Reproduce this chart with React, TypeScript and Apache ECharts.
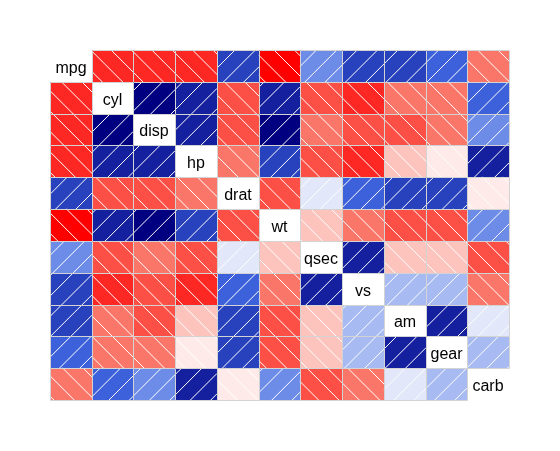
import React, { useEffect, useRef } from "react";
import * as echarts from "echarts";

// Variable names (diagonal labels)
const variables = ["mpg", "cyl", "disp", "hp", "drat", "wt", "qsec", "vs", "am", "gear", "carb"];

// Correlation rows (mtcars)
const mpgCor = [1, -0.852, -0.848, -0.776, 0.681, -0.868, 0.419, 0.664, 0.6, 0.48, -0.551];
const cylCor = [-0.852, 1, 0.902, 0.832, -0.7, 0.782, -0.591, -0.811, -0.523, -0.493, 0.527];
const dispCor = [-0.848, 0.902, 1, 0.791, -0.71, 0.888, -0.434, -0.71, -0.591, -0.556, 0.395];
const hpCor = [-0.776, 0.832, 0.791, 1, -0.449, 0.659, -0.708, -0.723, -0.243, -0.126, 0.75];
const dratCor = [0.681, -0.7, -0.71, -0.449, 1, -0.712, 0.091, 0.44, 0.713, 0.7, -0.091];
const wtCor = [-0.868, 0.782, 0.888, 0.659, -0.712, 1, -0.175, -0.555, -0.692, -0.583, 0.428];
const qsecCor = [0.419, -0.591, -0.434, -0.708, 0.091, -0.175, 1, 0.745, -0.23, -0.213, -0.656];
const vsCor = [0.664, -0.811, -0.71, -0.723, 0.44, -0.555, 0.745, 1, 0.168, 0.206, -0.57];
const amCor = [0.6, -0.523, -0.591, -0.243, 0.713, -0.692, -0.23, 0.168, 1, 0.794, 0.058];
const gearCor = [0.48, -0.493, -0.556, -0.126, 0.7, -0.583, -0.213, 0.206, 0.794, 1, 0.274];
const carbCor = [-0.551, 0.527, 0.395, 0.75, -0.091, 0.428, -0.656, -0.57, 0.058, 0.274, 1];

const corRows = [mpgCor, cylCor, dispCor, hpCor, dratCor, wtCor, qsecCor, vsCor, amCor, gearCor, carbCor];

// red - salmon - white - royalblue - navy, 14 steps
const palette = [
  "#FF0000", "#FD2723", "#FC4F46", "#FA7669", "#FB9D93", "#FDC4BE", "#FEEBE9",
  "#E2E8FA", "#A7BAF1", "#6D8CE8", "#3C61DA", "#2841BC", "#14209E", "#000080",
];

function colorFor(r: number): string {
  let idx = Math.ceil((r + 1) * 7) - 1;
  if (idx < 0) idx = 0;
  if (idx > 13) idx = 13;
  return palette[idx];
}

const HATCH = 20.36; // spacing along axis for 5 lines / inch at 72 dpi, 45 degrees

export default function App() {
  const ref = useRef<HTMLDivElement>(null);
  useEffect(() => {
    const chart = echarts.init(ref.current!, null, { renderer: "svg" });
    const data: number[][] = [];
    corRows.forEach((row, i) => row.forEach((r, j) => data.push([j, i, r])));
    chart.setOption({
      animation: false,
      grid: { left: 50, top: 50, width: 459, height: 350 },
      xAxis: { type: "value", min: 0, max: 11, show: false },
      yAxis: { type: "value", min: 0, max: 11, inverse: true, show: false },
      series: [
        {
          type: "custom",
          data,
          renderItem: (params: any, api: any) => {
            const col = api.value(0);
            const row = api.value(1);
            const r = api.value(2);
            const p0 = api.coord([col, row]);
            const p1 = api.coord([col + 1, row + 1]);
            const x0 = Math.round(p0[0]);
            const y0 = Math.round(p0[1]);
            const x1 = Math.round(p1[0]);
            const y1 = Math.round(p1[1]);
            if (col === row) {
              return {
                type: "text",
                style: {
                  text: variables[row],
                  x: (x0 + x1) / 2,
                  y: (y0 + y1) / 2 + 1,
                  align: "center",
                  verticalAlign: "middle",
                  fontSize: 16,
                  fontFamily: "Liberation Sans, Arial, sans-serif",
                  fill: "#000000",
                },
              };
            }
            const children: any[] = [];
            children.push({
              type: "rect",
              shape: { x: x0, y: y0, width: x1 - x0, height: y1 - y0 },
              style: { fill: colorFor(r) },
            });
            if (r > 0) {
              // "/" lines: x + y = c
              const cStart = Math.ceil((x0 + y0) / HATCH) * HATCH;
              for (let c = cStart; c < x1 + y1; c += HATCH) {
                const lo = Math.max(x0, c - y1);
                const hi = Math.min(x1, c - y0);
                if (hi - lo > 0.5) {
                  children.push({
                    type: "line",
                    shape: { x1: lo, y1: c - lo, x2: hi, y2: c - hi },
                    style: { stroke: "#ffffff", lineWidth: 1 },
                  });
                }
              }
            } else {
              // "\" lines: y - x = c
              const cStart = Math.ceil((y0 - x1) / HATCH) * HATCH;
              for (let c = cStart; c < y1 - x0; c += HATCH) {
                const lo = Math.max(x0, y0 - c);
                const hi = Math.min(x1, y1 - c);
                if (hi - lo > 0.5) {
                  children.push({
                    type: "line",
                    shape: { x1: lo, y1: lo + c, x2: hi, y2: hi + c },
                    style: { stroke: "#ffffff", lineWidth: 1 },
                  });
                }
              }
            }
            children.push({
              type: "rect",
              shape: { x: x0 + 0.5, y: y0 + 0.5, width: x1 - x0, height: y1 - y0 },
              style: { fill: "none", stroke: "#D3D3D3", lineWidth: 1 },
            });
            return { type: "group", children };
          },
        },
      ],
    });
    return () => chart.dispose();
  }, []);
  return (
    <div
      ref={ref}
      style={{ position: "fixed", left: 0, top: 0, width: 560, height: 451 }}
    />
  );
}
